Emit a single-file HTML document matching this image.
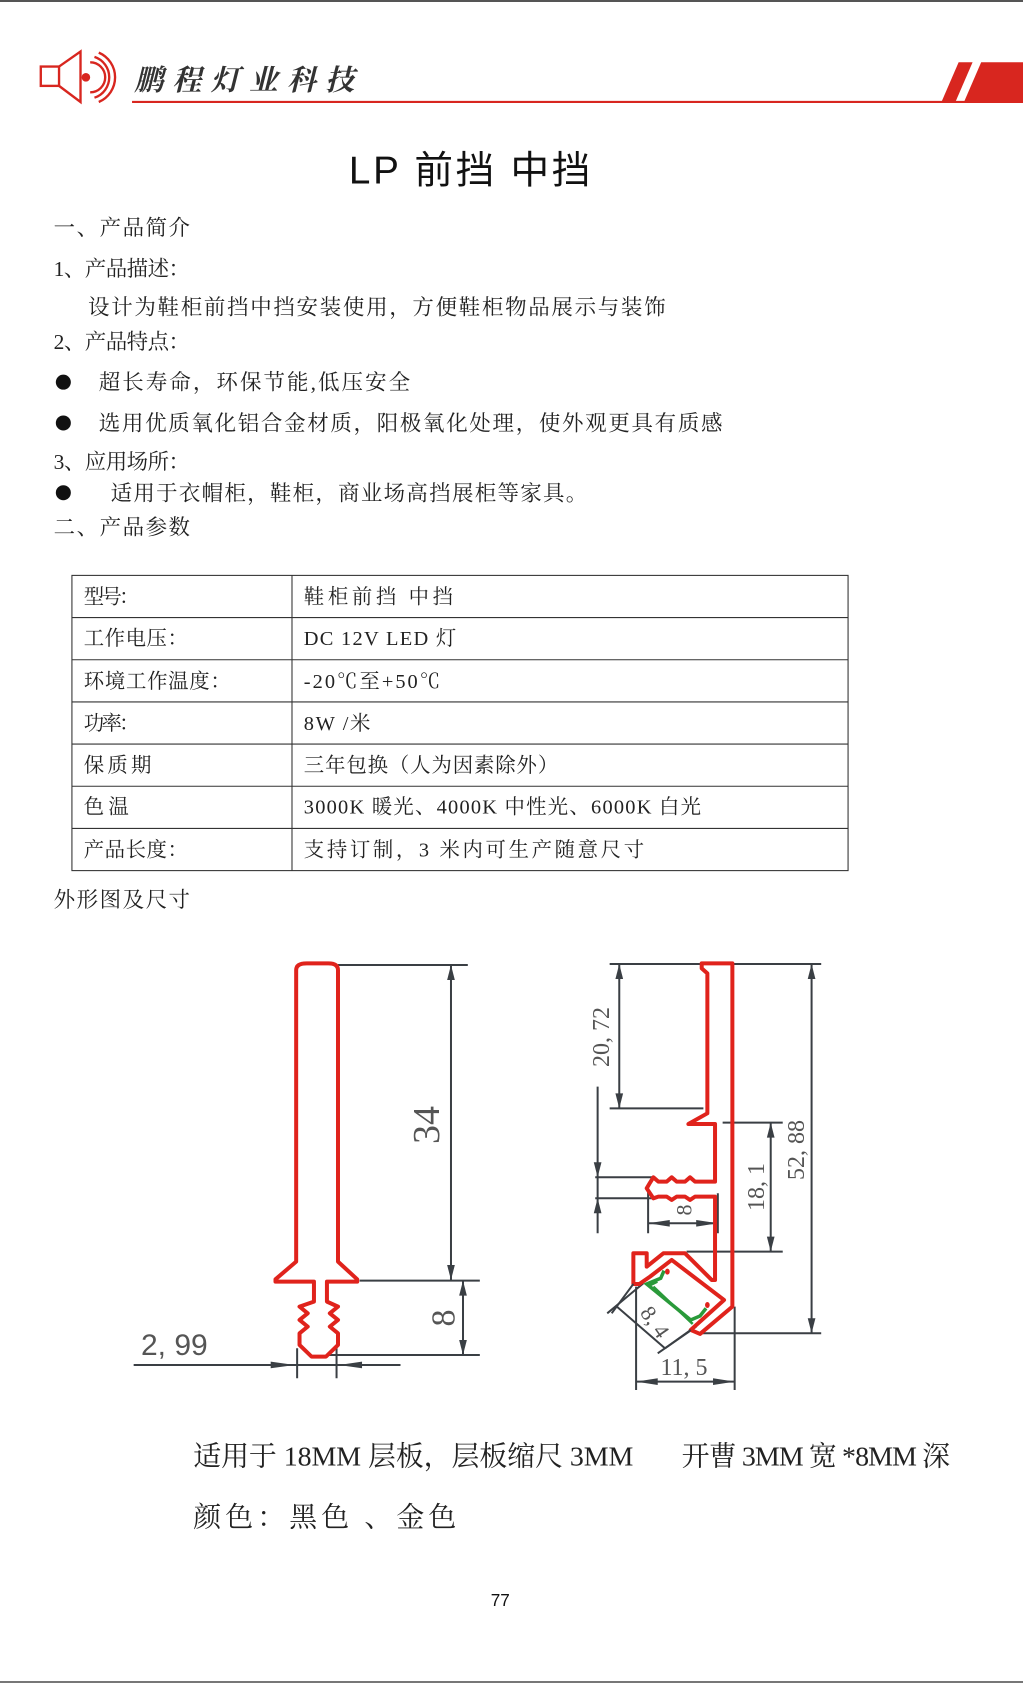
<!DOCTYPE html>
<html><head><meta charset="utf-8"><style>
html,body{margin:0;padding:0;background:#fff}
svg{display:block}
.s{font-family:"Liberation Serif","Noto Serif CJK SC",serif;fill:#222}
.h{font-family:"Liberation Sans","Noto Sans CJK SC",sans-serif;fill:#111}
.d{font-family:"Liberation Serif","Noto Serif CJK SC",serif;fill:#555}
</style></head><body>
<svg width="1023" height="1684" viewBox="0 0 1023 1684" xmlns="http://www.w3.org/2000/svg">
<rect width="1023" height="1684" fill="#fff"/>
<line x1="0" y1="1" x2="1023" y2="1" stroke="#555" stroke-width="2"/>
<line x1="0" y1="1682" x2="1023" y2="1682" stroke="#777" stroke-width="2"/>
<g transform="scale(1.0735)">
 <!-- logo -->
 <g fill="none" stroke="#d8261f" stroke-width="2.2">
  <rect x="38" y="62" width="17" height="18"/>
  <path d="M55,62 L75,48 L75,95 L55,80"/>
  <path d="M84,58 A14,14 0 0 1 84,86"/>
  <path d="M88,53 A20,20 0 0 1 88,91"/>
  <path d="M92,49 A25,25 0 0 1 92,95"/>
 </g>
 <circle cx="80" cy="72" r="4" fill="#d8261f"/>
 <text x="125" y="84" class="s" font-size="27" font-weight="bold" font-style="italic" textLength="205" style="fill:#333">鹏程灯业科技</text>
 <line x1="123" y1="95" x2="953" y2="95" stroke="#d8261f" stroke-width="2"/>
 <polygon points="877,95 893,58 906,58 890,95" fill="#d8261f"/>
 <polygon points="898,95 914,58 953,58 953,95" fill="#d8261f"/>
 <!-- title -->
 <text x="325" y="171" class="h" font-size="36" textLength="225">LP 前挡 中挡</text>
 <!-- body -->
 <g class="s" font-size="20">
  <text x="50" y="219" textLength="127">一、产品简介</text>
  <text x="50" y="257" textLength="127">1、产品描述：</text>
  <text x="82" y="293" textLength="538">设计为鞋柜前挡中挡安装使用，方便鞋柜物品展示与装饰</text>
  <text x="50" y="325" textLength="127">2、产品特点：</text>
  <text x="92" y="363" textLength="290">超长寿命，环保节能,低压安全</text>
  <text x="92" y="401" textLength="581">选用优质氧化铝合金材质，阳极氧化处理，使外观更具有质感</text>
  <text x="50" y="437" textLength="127">3、应用场所：</text>
  <text x="103" y="466" textLength="444">适用于衣帽柜，鞋柜，商业场高挡展柜等家具。</text>
  <text x="50" y="498" textLength="127">二、产品参数</text>
 </g>
 <circle cx="59" cy="356" r="7" fill="#111"/>
 <circle cx="59" cy="394" r="7" fill="#111"/>
 <circle cx="59" cy="459" r="7" fill="#111"/>
 <!-- table -->
 <g stroke="#333" stroke-width="1" fill="none">
  <rect x="67" y="536" width="723" height="275"/>
  <line x1="272" y1="536" x2="272" y2="811"/>
  <line x1="67" y1="575.3" x2="790" y2="575.3"/>
  <line x1="67" y1="614.6" x2="790" y2="614.6"/>
  <line x1="67" y1="653.9" x2="790" y2="653.9"/>
  <line x1="67" y1="693.1" x2="790" y2="693.1"/>
  <line x1="67" y1="732.4" x2="790" y2="732.4"/>
  <line x1="67" y1="771.7" x2="790" y2="771.7"/>
 </g>
 <g class="s" font-size="19">
  <text x="78" y="562" textLength="52">型号：</text>
  <text x="78" y="601" textLength="97">工作电压：</text>
  <text x="78" y="641" textLength="137">环境工作温度：</text>
  <text x="78" y="680" textLength="52">功率：</text>
  <text x="78" y="719" textLength="63">保质期</text>
  <text x="78" y="758" textLength="42">色温</text>
  <text x="78" y="798" textLength="97">产品长度：</text>
  <text x="283" y="562" textLength="139">鞋柜前挡 中挡</text>
  <text x="283" y="601" textLength="142">DC 12V  LED 灯</text>
  <text x="283" y="641" textLength="127">-20℃至+50℃</text>
  <text x="283" y="680" textLength="62">8W /米</text>
  <text x="283" y="719" textLength="237">三年包换（人为因素除外）</text>
  <text x="283" y="758" textLength="370">3000K 暖光、4000K 中性光、6000K 白光</text>
  <text x="283" y="798" textLength="317">支持订制，3 米内可生产随意尺寸</text>
  <text x="50" y="845" font-size="20" textLength="127">外形图及尺寸</text>
 </g>
 <g class="s" font-size="26">
  <text x="180" y="1365" textLength="410">适用于 18MM 层板，层板缩尺 3MM</text>
  <text x="635" y="1365" textLength="250">开曹 3MM 宽 *8MM 深</text>
  <text x="180" y="1422" textLength="245">颜色：黑色 、金色</text>
 </g>
 <text x="466" y="1496" class="h" font-size="16" text-anchor="middle">77</text>
</g>

<!-- drawing in zoom2 coords -->
<g transform="translate(100,940) scale(0.4808,0.3333)">
 <g fill="none" stroke="#3a3f44" stroke-width="2" vector-effect="non-scaling-stroke">
  <!-- left dims -->
  <path vector-effect="non-scaling-stroke" d="M495,75 L765,75 M730,75 L730,1020 M540,1022 L790,1022 M755,1022 L755,1245 M475,1245 L790,1245 M70,1275 L625,1275 M410,1225 L410,1315 M492,1225 L492,1315"/>
  <!-- right dims -->
  <path vector-effect="non-scaling-stroke" d="M1060,72 L1500,72 M1080,72 L1080,505 M1060,505 L1255,505 M1035,440 L1035,880 M1030,712 L1150,712 M1030,775 L1150,775 M1140,745 L1140,880 M1285,760 L1285,880 M1140,850 L1285,850 M1295,548 L1420,548 M1395,548 L1395,935 M1220,935 L1420,935 M1480,72 L1480,1180 M1250,1180 L1500,1180 M1115,1040 L1115,1350 M1320,1100 L1320,1350 M1115,1325 L1320,1325 M1055,1120 L1130,1030 M1160,1240 L1240,1160 M1075,1100 L1175,1225"/>
 </g>
 <g fill="#3a3f44">
  <!-- vertical arrows -->
  <polygon points="722,120 730,75 738,120"/><polygon points="722,975 730,1020 738,975"/>
  <polygon points="747,1067 755,1022 763,1067"/><polygon points="747,1200 755,1245 763,1200"/>
  <polygon points="1072,117 1080,72 1088,117"/><polygon points="1072,460 1080,505 1088,460"/>
  <polygon points="1027,667 1035,712 1043,667"/><polygon points="1027,820 1035,775 1043,820"/>
  <polygon points="1387,593 1395,548 1403,593"/><polygon points="1387,890 1395,935 1403,890"/>
  <polygon points="1472,117 1480,72 1488,117"/><polygon points="1472,1135 1480,1180 1488,1135"/>
  <!-- horizontal arrows -->
  <polygon points="355,1265 405,1275 355,1285"/><polygon points="545,1265 497,1275 545,1285"/>
  <polygon points="1185,840 1140,850 1185,860"/><polygon points="1240,840 1285,850 1240,860"/>
  <polygon points="1160,1315 1115,1325 1160,1335"/><polygon points="1275,1315 1320,1325 1275,1335"/>
 </g>
 <!-- left profile -->
 <path vector-effect="non-scaling-stroke" fill="none" stroke="#e0231c" stroke-width="4" stroke-linejoin="round" d="M408,90 Q408,70 430,70 L475,70 Q495,70 495,90 L495,965 L535,1018 L535,1025 L472,1025 L472,1085 L495,1100 L478,1120 L495,1140 L478,1160 L495,1180 L495,1215 L470,1250 L440,1250 L415,1215 L415,1180 L432,1160 L415,1140 L432,1120 L415,1100 L445,1085 L445,1025 L365,1025 L365,1018 L408,965 Z"/>
 <!-- right profile in zoom3 coords -->
 <g transform="translate(1040,480) scale(0.6933,1)">
  <path vector-effect="non-scaling-stroke" fill="none" stroke="#e0231c" stroke-width="4" stroke-linejoin="round" d="M305,-410 L397,-410 L397,620 L300,702 L272,690 L372,600 L215,480 L150,530 L118,552 L100,552 L100,460 L140,460 L140,500 L190,460 L255,460 L335,540 L345,540 L345,290 L285,290 L270,300 L255,290 L230,290 L215,300 L200,290 L175,290 L160,295 L140,265 L150,248 L160,232 L175,245 L200,245 L215,232 L230,245 L255,245 L270,232 L285,245 L345,245 L345,72 L265,72 L322,40 L322,-380 L305,-395 Z"/>
  <path vector-effect="non-scaling-stroke" fill="none" stroke="#2a9a3a" stroke-width="3.5" d="M192,512 L182,535 L140,552 L272,660 L300,648 L318,625"/>
  <path vector-effect="non-scaling-stroke" fill="none" stroke="#2a9a3a" stroke-width="2.5" d="M172,545 L150,556 M160,560 L278,672"/>
  <path vector-effect="non-scaling-stroke" fill="none" stroke="#3a3f44" stroke-width="2" d="M100,552 L35,640 M272,690 L195,745"/>
  <ellipse cx="202" cy="515" rx="7" ry="9" fill="#e0231c"/>
  <ellipse cx="322" cy="615" rx="7" ry="9" fill="#e0231c"/>
 </g>
</g>
<!-- dimension labels -->
<g class="d">
 <text x="141" y="1355" font-size="30" font-family="Liberation Sans, sans-serif" style="fill:#555">2, 99</text>
 <text transform="translate(427,1125) rotate(-90)" font-size="38" text-anchor="middle" dominant-baseline="central">34</text>
 <text transform="translate(444,1318) rotate(-90)" font-size="34" text-anchor="middle" dominant-baseline="central">8</text>
 <text transform="translate(602,1037) rotate(-90)" font-size="24" text-anchor="middle" dominant-baseline="central">20, 72</text>
 <text transform="translate(684,1210) rotate(-90)" font-size="22" text-anchor="middle" dominant-baseline="central">8</text>
 <text transform="translate(757,1187) rotate(-90)" font-size="24" text-anchor="middle" dominant-baseline="central">18, 1</text>
 <text transform="translate(797,1150) rotate(-90)" font-size="24" text-anchor="middle" dominant-baseline="central">52, 88</text>
 <text x="684" y="1368" font-size="24" text-anchor="middle" dominant-baseline="central">11, 5</text>
 <text transform="translate(655,1322) rotate(55)" font-size="22" text-anchor="middle" dominant-baseline="central">8, 4</text>
</g>
</svg>
</body></html>
